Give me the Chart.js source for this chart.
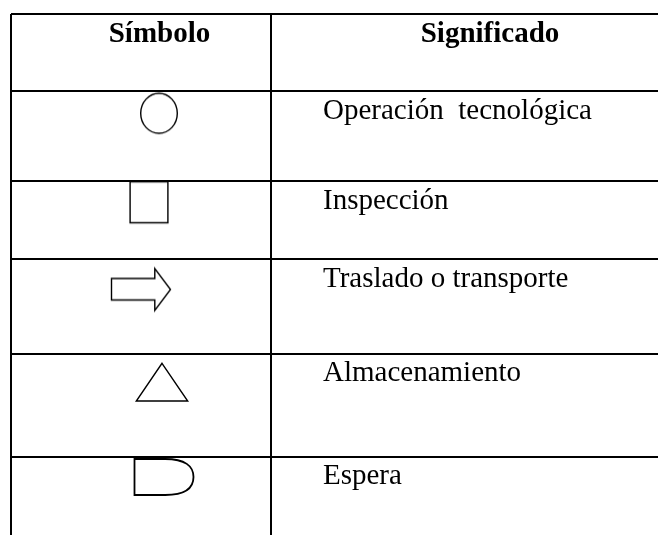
<!DOCTYPE html>
<html>
<head>
    <title>Símbolos</title>
    <script src="https://cdn.jsdelivr.net/npm/chart.js"></script>
    <style>
        body {
            margin: 0;
            background-color: #ffffff;
        }
        .table-box {
            width: 658px;
            height: 535px;
        }
    </style>
</head>
<body>
    <div class="table-box"><canvas id="chart"></canvas></div>
    <script>
        // Table content
        const headers = ['Símbolo', 'Significado'];
        const symbols = ['circle', 'rect', 'arrow', 'triangle', 'delay'];
        const meanings = ['Operación  tecnológica', 'Inspección', 'Traslado o transporte', 'Almacenamiento', 'Espera'];

        // Axis ticks where the table rules sit
        const columnTicks = [11, 271];
        const rowTicks = [14, 91.3, 181.3, 259, 353.7, 456.7];

        // Where each symbol sits (axis units)
        const symbolX = [159, 149, 141, 162, 164];
        const symbolY = [113.3, 202.2, 289.5, 382, 477];

        // Build small canvases used as point styles
        function makeSymbol(kind) {
            const c = document.createElement('canvas');
            c.width = 64;
            c.height = 48;
            const g = c.getContext('2d');
            g.translate(32, 24);
            g.strokeStyle = '#000';
            g.lineWidth = 1.4;
            g.lineJoin = 'miter';
            g.beginPath();
            if (kind === 'circle') {
                g.ellipse(0, 0, 18.3, 20, 0, 0, Math.PI * 2);
            } else if (kind === 'rect') {
                g.rect(-18.9, -20.5, 37.8, 41);
            } else if (kind === 'arrow') {
                g.moveTo(-29.5, -11);
                g.lineTo(13.8, -11);
                g.lineTo(13.8, -21);
                g.lineTo(29.5, 0);
                g.lineTo(13.8, 21);
                g.lineTo(13.8, 10.5);
                g.lineTo(-29.5, 10.5);
                g.closePath();
            } else if (kind === 'triangle') {
                g.moveTo(0, -18.7);
                g.lineTo(25.7, 19);
                g.lineTo(-25.7, 19);
                g.closePath();
            } else if (kind === 'delay') {
                g.lineWidth = 1.8;
                g.moveTo(-29.5, -18);
                g.lineTo(1.2, -18);
                g.bezierCurveTo(21, -18, 29.5, -11, 29.5, 0);
                g.bezierCurveTo(29.5, 11, 21, 18, 1.2, 18);
                g.lineTo(-29.5, 18);
                g.closePath();
            }
            g.stroke();
            return c;
        }

        const symbolPoints = symbols.map((s, i) => ({ x: symbolX[i], y: symbolY[i] }));

        // Draws the header and meaning texts
        const tableText = {
            id: 'tableText',
            afterDraw(chart, args, opts) {
                const ctx = chart.ctx;
                const xs = chart.scales.x;
                const ys = chart.scales.y;
                ctx.save();
                ctx.fillStyle = '#000';
                ctx.textBaseline = 'alphabetic';

                ctx.font = 'bold 29px "Liberation Serif"';
                ctx.textAlign = 'center';
                headers.forEach((h, i) => {
                    ctx.fillText(h, xs.getPixelForValue(opts.headerCenters[i]),
                        ys.getPixelForValue(rowTicks[0]) + opts.baseline);
                });

                ctx.font = '29px "Liberation Serif"';
                ctx.textAlign = 'left';
                meanings.forEach((m, i) => {
                    ctx.fillText(m, xs.getPixelForValue(columnTicks[1]) + opts.indent,
                        ys.getPixelForValue(rowTicks[i + 1]) + opts.baseline);
                });
                ctx.restore();
            }
        };

        const ctx = document.getElementById('chart').getContext('2d');
        new Chart(ctx, {
            type: 'scatter',
            data: {
                datasets: [{
                    data: symbolPoints,
                    pointStyle: symbols.map(makeSymbol),
                    pointRadius: 20,
                    clip: false
                }]
            },
            options: {
                responsive: true,
                maintainAspectRatio: false,
                animation: false,
                events: [],
                layout: { autoPadding: false, padding: { left: 11, top: 14, right: 0, bottom: 0 } },
                plugins: {
                    legend: { display: false },
                    tooltip: { enabled: false },
                    tableText: { headerCenters: [159.5, 490], baseline: 27.5, indent: 52 }
                },
                scales: {
                    x: {
                        type: 'linear',
                        min: 11,
                        max: 658,
                        afterBuildTicks: scale => { scale.ticks = columnTicks.map(v => ({ value: v })); },
                        ticks: { display: false },
                        grid: { color: '#000', lineWidth: 2, drawTicks: false },
                        border: { display: false }
                    },
                    y: {
                        type: 'linear',
                        reverse: true,
                        min: 14,
                        max: 535,
                        afterBuildTicks: scale => { scale.ticks = rowTicks.map(v => ({ value: v })); },
                        ticks: { display: false },
                        grid: { color: '#000', lineWidth: 2, drawTicks: false },
                        border: { display: false }
                    }
                }
            },
            plugins: [tableText]
        });
    </script>
</body>
</html>
